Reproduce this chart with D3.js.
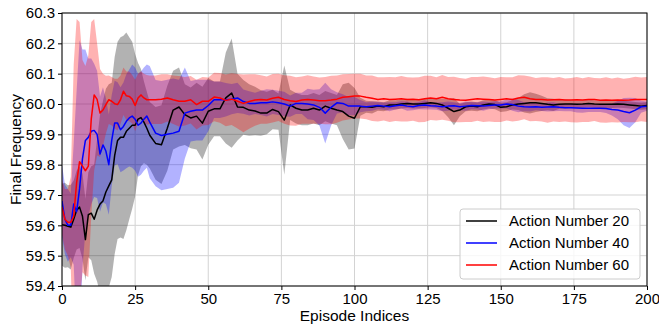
<!DOCTYPE html>
<html>
<head>
<meta charset="utf-8">
<script src="https://cdn.jsdelivr.net/npm/d3@7"></script>
<style>
  body { margin: 0; background: #fff; }
  svg text { font-family: "Liberation Sans", Arial, sans-serif; fill: #000; }
  .axis path, .axis line { stroke: #000; }
  .grid line { stroke: #d3d3d3; stroke-width: 1; }
</style>
</head>
<body>
<div id="chart"></div>
<script>
const episodes = [0,1,2,3,4,5,6,7,8,9,10,11,12,13,14,15,16,17,18,19,20,21,22,23,24,25,26,27,28,29,30,
  32,34,36,38,40,42,44,46,48,50,52,54,56,58,60,
  62,64,66,68,70,72,74,76,78,80,82,84,86,88,90,92,94,96,98,100,
  102,104,106,108,110,112,114,116,118,120,122,124,126,128,130,132,134,136,138,140,142,144,146,148,
  150,152,154,156,158,160,162,164,166,168,170,172,174,176,178,180,182,184,186,188,190,192,194,196,198,200];

// Action Number 20
const mean20 = [59.602,59.600,59.597,59.594,59.620,59.650,59.660,59.630,59.553,59.635,59.640,59.620,59.650,59.670,59.680,59.710,59.730,59.750,59.830,59.880,59.890,59.890,59.910,59.920,59.930,59.930,59.950,59.955,59.940,59.920,59.897,
  59.870,59.866,59.920,59.980,59.990,59.965,59.954,59.960,59.937,59.976,59.984,59.984,60.020,60.036,59.990,
  59.989,59.980,59.977,59.970,59.970,59.982,59.975,59.947,59.997,59.986,59.980,59.980,59.986,59.980,59.993,59.986,59.980,59.975,59.960,59.953,
  59.991,59.991,59.989,59.993,59.991,59.997,59.997,60.000,60.002,60.000,60.000,60.002,60.004,60.002,59.997,59.986,59.975,59.980,59.991,59.993,59.991,59.997,60.000,59.998,
  59.989,59.991,59.997,60.000,60.002,60.004,60.004,60.002,59.999,59.997,59.999,60.000,60.000,59.999,60.000,60.002,60.000,59.999,59.999,59.999,60.000,59.999,59.997,59.995,59.993,59.995];
const std20 = [0.135,0.14,0.135,0.14,0.128,0.13,0.135,0.14,0.135,0.14,0.155,0.18,0.235,0.295,0.33,0.34,0.335,0.32,0.325,0.325,0.33,0.335,0.326,0.30,0.275,0.235,0.185,0.16,0.135,0.12,0.11,
  0.12,0.13,0.14,0.13,0.13,0.10,0.10,0.11,0.12,0.11,0.09,0.09,0.15,0.18,0.11,
  0.09,0.085,0.08,0.075,0.07,0.065,0.06,0.18,0.05,0.05,0.05,0.05,0.05,0.05,0.05,0.05,0.05,0.09,0.11,0.10,
  0.03,0.02,0.02,0.015,0.015,0.015,0.015,0.015,0.015,0.015,0.015,0.015,0.015,0.015,0.02,0.03,0.045,0.02,0.015,0.015,0.015,0.015,0.015,0.015,
  0.015,0.015,0.015,0.02,0.03,0.035,0.03,0.025,0.02,0.02,0.015,0.015,0.012,0.012,0.012,0.012,0.012,0.012,0.012,0.012,0.012,0.012,0.012,0.012,0.012,0.012];

// Action Number 40
const mean40 = [59.680,59.620,59.600,59.600,59.670,59.645,59.720,59.820,59.880,59.890,59.910,59.913,59.900,59.835,59.865,59.845,59.800,59.880,59.937,59.937,59.915,59.926,59.943,59.954,59.960,59.950,59.930,59.937,59.950,59.960,59.940,
  59.904,59.896,59.900,59.904,59.910,59.970,59.976,59.980,59.980,59.995,60.014,60.014,60.014,60.016,60.020,
  60.008,60.002,60.002,60.004,60.004,60.007,60.004,60.000,59.993,60.002,60.002,60.000,59.997,59.989,59.970,59.989,60.004,60.002,59.993,59.993,
  59.993,59.991,59.993,59.995,59.993,59.991,59.994,59.997,59.993,59.991,59.995,59.997,59.994,59.993,59.991,59.993,59.994,59.991,59.993,59.995,59.994,59.993,59.995,59.997,
  59.997,60.000,59.998,59.993,59.991,59.990,59.991,59.989,59.990,59.991,59.989,59.988,59.988,59.987,59.986,59.986,59.986,59.986,59.985,59.982,59.980,59.975,59.971,59.980,59.991,59.993];
const std40 = [0.12,0.115,0.12,0.105,0.20,0.40,0.49,0.36,0.30,0.26,0.24,0.22,0.21,0.19,0.19,0.175,0.165,0.15,0.14,0.135,0.14,0.145,0.155,0.16,0.17,0.17,0.17,0.17,0.17,0.17,0.185,
  0.175,0.18,0.18,0.18,0.17,0.15,0.10,0.10,0.10,0.085,0.06,0.06,0.055,0.05,0.05,
  0.04,0.04,0.035,0.04,0.045,0.04,0.04,0.04,0.035,0.035,0.035,0.05,0.05,0.06,0.10,0.06,0.035,0.03,0.03,0.03,
  0.02,0.015,0.015,0.012,0.012,0.015,0.012,0.012,0.015,0.012,0.012,0.015,0.012,0.012,0.015,0.015,0.012,0.012,0.015,0.012,0.012,0.015,0.012,0.012,
  0.012,0.015,0.02,0.02,0.015,0.015,0.012,0.012,0.015,0.015,0.012,0.012,0.012,0.015,0.015,0.012,0.012,0.012,0.015,0.02,0.03,0.045,0.05,0.04,0.02,0.015];

// Action Number 60
const mean60 = [59.660,59.620,59.610,59.610,59.630,59.740,59.810,59.795,59.780,59.795,59.950,60.030,60.015,59.970,59.980,59.998,60.014,60.009,60.001,59.998,60.014,60.042,60.027,60.025,60.016,59.995,60.020,60.030,60.020,60.014,60.014,
  60.014,60.016,60.020,60.014,60.009,60.009,60.014,59.998,60.009,60.009,60.023,60.020,60.012,60.016,60.009,
  60.002,60.008,60.013,60.015,60.013,60.019,60.022,60.015,60.011,60.008,60.013,60.015,60.013,60.011,60.011,60.013,60.016,60.022,60.024,60.026,
  60.026,60.022,60.019,60.015,60.017,60.015,60.016,60.017,60.015,60.016,60.014,60.017,60.020,60.017,60.022,60.017,60.015,60.013,60.012,60.015,60.017,60.016,60.015,60.013,
  60.015,60.017,60.015,60.020,60.022,60.017,60.015,60.015,60.013,60.014,60.015,60.013,60.013,60.014,60.013,60.015,60.015,60.012,60.013,60.012,60.013,60.012,60.013,60.015,60.015,60.015];
const std60 = [0.09,0.10,0.11,0.15,0.50,0.54,0.46,0.35,0.345,0.365,0.32,0.25,0.185,0.145,0.12,0.095,0.08,0.08,0.082,0.085,0.08,0.078,0.08,0.082,0.08,0.085,0.08,0.078,0.08,0.082,0.08,
  0.08,0.082,0.078,0.08,0.083,0.08,0.078,0.082,0.08,0.078,0.08,0.082,0.085,0.085,0.09,
  0.095,0.09,0.085,0.08,0.078,0.08,0.078,0.08,0.082,0.08,0.078,0.08,0.078,0.076,0.078,0.08,0.078,0.076,0.075,0.074,
  0.074,0.072,0.075,0.073,0.071,0.074,0.072,0.075,0.073,0.071,0.074,0.076,0.073,0.071,0.074,0.072,0.075,0.073,0.071,0.074,0.072,0.075,0.073,0.072,
  0.074,0.071,0.073,0.075,0.072,0.074,0.071,0.073,0.075,0.072,0.074,0.071,0.073,0.075,0.072,0.074,0.071,0.073,0.075,0.072,0.074,0.071,0.073,0.075,0.072,0.074];

const xTicks = [0, 25, 50, 75, 100, 125, 150, 175, 200];
const yTicks = [59.4, 59.5, 59.6, 59.7, 59.8, 59.9, 60.0, 60.1, 60.2, 60.3];

const series = [
  {name: 'Action Number 20', mean: mean20, std: std20, color: 'black'},
  {name: 'Action Number 40', mean: mean40, std: std40, color: 'blue'},
  {name: 'Action Number 60', mean: mean60, std: std60, color: 'red'}
];

const width = 659, height = 329;
const margin = {top: 13, right: 12, bottom: 43, left: 62};

const svg = d3.select('#chart').append('svg')
  .attr('width', width)
  .attr('height', height);

const x = d3.scaleLinear().domain([0, 200]).range([margin.left, width - margin.right]);
const y = d3.scaleLinear().domain([59.4, 60.3]).range([height - margin.bottom, margin.top]);

svg.append('clipPath').attr('id', 'plot-clip')
  .append('rect')
  .attr('x', margin.left).attr('y', margin.top)
  .attr('width', x(200) - x(0)).attr('height', y(59.4) - y(60.3));

// grid
const grid = svg.append('g').attr('class', 'grid');
grid.selectAll('.gx').data(xTicks).join('line')
  .attr('x1', d => x(d)).attr('x2', d => x(d))
  .attr('y1', y(59.4)).attr('y2', y(60.3));
grid.selectAll('.gy').data(yTicks).join('line')
  .attr('x1', x(0)).attr('x2', x(200))
  .attr('y1', d => y(d)).attr('y2', d => y(d));

const plot = svg.append('g').attr('clip-path', 'url(#plot-clip)');

const area = d3.area()
  .x((d, i) => x(episodes[i]))
  .y0(d => y(d[0] - d[1]))
  .y1(d => y(d[0] + d[1]));

const line = d3.line()
  .x((d, i) => x(episodes[i]))
  .y(d => y(d));

series.forEach(s => {
  plot.append('path')
    .datum(s.mean.map((m, i) => [m, s.std[i]]))
    .attr('d', area)
    .attr('fill', s.color)
    .attr('fill-opacity', 0.3)
    .attr('stroke', 'none');
});

series.forEach(s => {
  plot.append('path')
    .datum(s.mean)
    .attr('d', line)
    .attr('fill', 'none')
    .attr('stroke', s.color)
    .attr('stroke-width', 1.5)
    .attr('stroke-linejoin', 'round');
});

// axes
svg.append('g')
  .attr('class', 'axis')
  .attr('transform', `translate(0, ${y(59.4)})`)
  .call(d3.axisBottom(x).tickValues(xTicks).tickSize(4).tickPadding(3.5).tickSizeOuter(0));

svg.append('g')
  .attr('class', 'axis')
  .attr('transform', `translate(${x(0)}, 0)`)
  .call(d3.axisLeft(y).tickValues(yTicks).tickFormat(d3.format('.1f')).tickSize(4).tickPadding(3).tickSizeOuter(0));

svg.selectAll('.axis text').style('font-size', '15px');
svg.selectAll('.axis path').remove();

// frame
svg.append('rect')
  .attr('x', x(0)).attr('y', y(60.3))
  .attr('width', x(200) - x(0)).attr('height', y(59.4) - y(60.3))
  .attr('fill', 'none').attr('stroke', '#000').attr('stroke-width', 1);

svg.append('text')
  .attr('x', (x(0) + x(200)) / 2)
  .attr('y', 321)
  .attr('text-anchor', 'middle')
  .style('font-size', '15.5px')
  .text('Episode Indices');

svg.append('text')
  .attr('transform', `translate(21, ${(y(59.4) + y(60.3)) / 2}) rotate(-90)`)
  .attr('text-anchor', 'middle')
  .style('font-size', '15.5px')
  .text('Final Frequency');

// legend
const legend = svg.append('g').attr('transform', 'translate(460, 209)');
legend.append('rect')
  .attr('width', 180).attr('height', 70).attr('rx', 3)
  .attr('fill', '#fff').attr('fill-opacity', 0.8)
  .attr('stroke', '#cccccc');

series.forEach((s, i) => {
  const row = legend.append('g').attr('transform', `translate(0, ${12 + i * 22})`);
  row.append('line')
    .attr('x1', 6).attr('x2', 37)
    .attr('stroke', s.color).attr('stroke-width', 1.5);
  row.append('text')
    .attr('x', 49).attr('dy', '0.35em')
    .style('font-size', '15px')
    .text(s.name);
});
</script>
</body>
</html>
